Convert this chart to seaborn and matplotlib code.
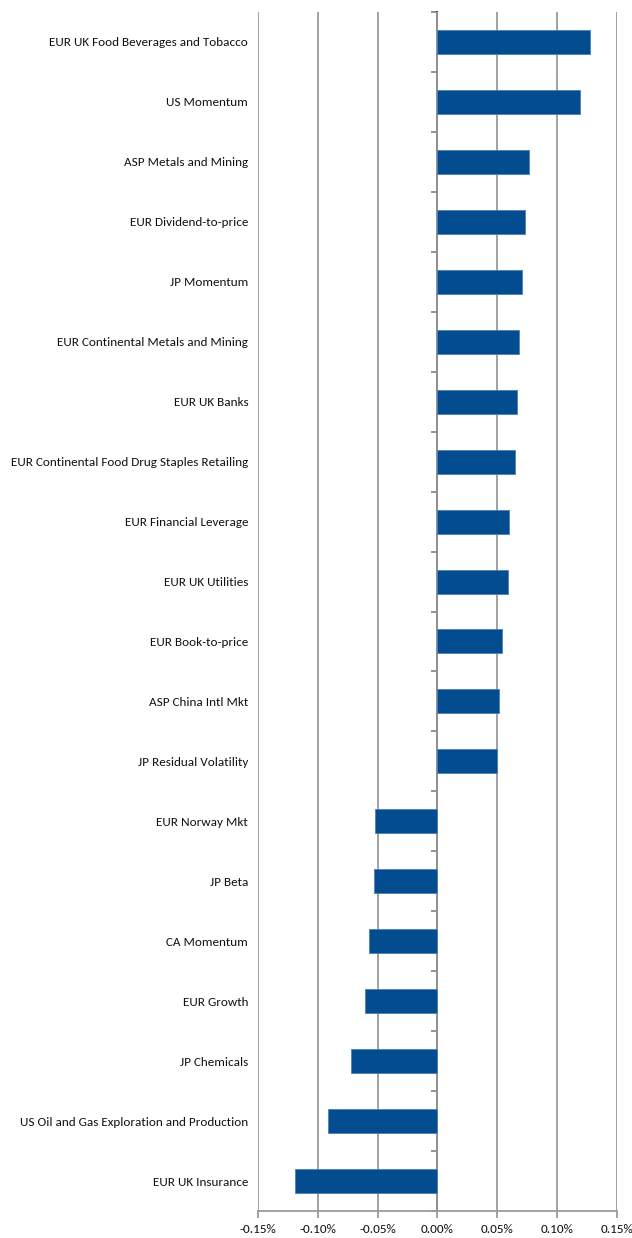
import matplotlib
matplotlib.use("Agg")
import matplotlib.pyplot as plt
from matplotlib import font_manager as fm
from matplotlib.ticker import FuncFormatter
import seaborn as sns
import pandas as pd

factors = [
    "EUR UK Food Beverages and Tobacco",
    "US Momentum",
    "ASP Metals and Mining",
    "EUR Dividend-to-price",
    "JP Momentum",
    "EUR Continental Metals and Mining",
    "EUR UK Banks",
    "EUR Continental Food Drug Staples Retailing",
    "EUR Financial Leverage",
    "EUR UK Utilities",
    "EUR Book-to-price",
    "ASP China Intl Mkt",
    "JP Residual Volatility",
    "EUR Norway Mkt",
    "JP Beta",
    "CA Momentum",
    "EUR Growth",
    "JP Chemicals",
    "US Oil and Gas Exploration and Production",
    "EUR UK Insurance",
]
# contribution in percent
contribution = [
    0.1275, 0.119, 0.0767, 0.073, 0.0705, 0.068, 0.0668, 0.0651, 0.060, 0.059,
    0.0537, 0.0512, 0.050, -0.0518, -0.053, -0.057, -0.0603, -0.072, -0.091, -0.119,
]
x_ticks = [-0.15, -0.10, -0.05, 0.0, 0.05, 0.10, 0.15]

df = pd.DataFrame({"factor": factors, "contribution": contribution})

sns.set_theme(style="white")

# prefer a narrow Calibri-like face, fall back to wider ones at a smaller size
installed = {f.name for f in fm.fontManager.ttflist}
font_choices = [("Carlito", 9.45), ("Roboto Condensed", 9.2),
                ("Liberation Sans Narrow", 9.2), ("Roboto", 8.2), ("DejaVu Sans", 7.2)]
family, fsize = next((n, s) for n, s in font_choices if n in installed or n == "DejaVu Sans")
plt.rcParams["font.family"] = [family, "DejaVu Sans"]

fig = plt.figure(figsize=(6.32, 12.38), dpi=100)
ax = fig.add_axes([0.408, 0.0218, 0.568, 0.9685])

grid_col = "#9a9a9a"
ax.set_axisbelow(True)
ax.grid(axis="x", color=grid_col, linewidth=1.3)
ax.grid(axis="y", visible=False)

sns.barplot(data=df, x="contribution", y="factor", orient="h",
            color="#024C8F", saturation=1, width=0.4, ax=ax,
            edgecolor="#4d7fb8", linewidth=0.6)

ax.set_xlim(-0.15, 0.15)
ax.set_ylim(len(factors) - 0.5, -0.5)
ax.set_xticks(x_ticks)
ax.xaxis.set_major_formatter(FuncFormatter(lambda v, p: f"{v:.2f}%"))
ax.set_xlabel("")
ax.set_ylabel("")

for side in ["top", "right", "left"]:
    ax.spines[side].set_visible(False)
ax.spines["bottom"].set_color(grid_col)
ax.spines["bottom"].set_linewidth(1.3)

ax.tick_params(axis="x", which="major", direction="out", length=5, width=1.3,
               color=grid_col, labelsize=fsize, labelcolor="#111111", pad=4, bottom=True)
ax.tick_params(axis="y", which="major", length=0, labelsize=fsize,
               labelcolor="#111111", pad=7)

# zero axis with category boundary ticks pointing left
zero_ax = ax.secondary_yaxis(0.5)
zero_ax.set_yticks([i - 0.5 for i in range(len(factors) + 1)])
zero_ax.set_yticklabels([])
zero_ax.spines["left"].set_color("#8a8a8a")
zero_ax.spines["left"].set_linewidth(1.6)
zero_ax.tick_params(axis="y", left=True, right=False, direction="out",
                    length=4, width=1.3, color="#8a8a8a")

fig.savefig("out.png", dpi=100, facecolor="white")
